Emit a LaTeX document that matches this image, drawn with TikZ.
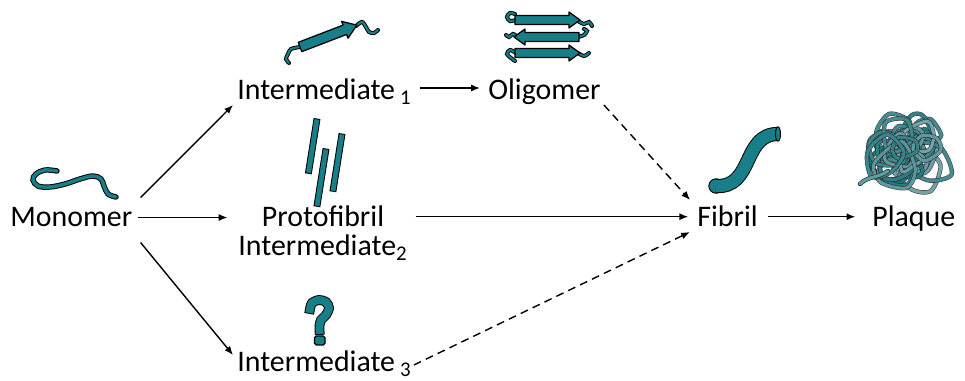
\documentclass[tikz,border=0pt]{standalone}
\usepackage{fontspec}
\setmainfont{Carlito}
\usetikzlibrary{arrows.meta,positioning}
\definecolor{amyteal}{RGB}{24,126,136}
\definecolor{amylight}{RGB}{92,160,166}

\tikzset{
  stage/.style={font=\fontsize{17}{16.5}\selectfont, inner sep=0pt, anchor=base west},
  route/.style={-{Latex[length=5pt,width=4pt]}, line width=0.8pt},
  maybe/.style={route, dash pattern=on 4.5pt off 3pt},
  strand/.style={draw=black, double=amyteal, line width=0.55pt, double distance=#1, line cap=round},
  sheet/.style={draw=black, fill=amyteal, line width=0.7pt, line join=round},
  rod/.style={draw=black, fill=amyteal, line width=0.5pt},
}

\begin{document}
\begin{tikzpicture}[x=0.02cm, y=-0.02cm]
\useasboundingbox (0,0) rectangle (965,381);

% Stage labels
\node[stage] (mon) at (10,227) {Monomer};
\node[stage] (int1) at (237,100) {Intermediate\,\textsubscript{1}};
\node[stage] (olig) at (488,100) {Oligomer};
\node[stage, anchor=center, align=center] (proto) at (323,233) {Protofibril\\Intermediate\textsubscript{2}};
\node[stage] (int3) at (237,372) {Intermediate\,\textsubscript{3}};
\node[stage] (fib) at (697,227) {Fibril};
\node[stage] (plq) at (872,227) {Plaque};

% Pathways
\draw[route] ([shift={(8,-20)}]mon.east) -- ([shift={(-4,5)}]int1.base west);
\draw[route, shorten <=3pt, shorten >=6pt] (mon.east) -- (mon.east -| proto.west);
\draw[route] ([shift={(8,25)}]mon.east) -- ([shift={(-4,-17)}]int3.base west);
\draw[route] ([shift={(8,-12)}]int1.base east) -- ([shift={(-8,-12)}]olig.base west);
\draw[maybe] ([shift={(3,5)}]olig.base east) -- ([shift={(-7,-27)}]fib.base west);
\draw[route, shorten <=4.3pt, shorten >=5pt] (fib.west -| proto.east) -- (fib.west);
\draw[maybe] ([shift={(2,-7)}]int3.base east) -- ([shift={(-7,5)}]fib.base west);
\draw[route, shorten <=5.5pt, shorten >=9.5pt] (fib.east) -- (fib.east -| plq.west);

% Monomer: free strand
\draw[strand=2pt] plot[smooth, tension=0.6] coordinates
  {(57,171) (45,170) (36,174) (33,180) (38,186) (50,187) (65,184) (80,179) (93,176) (101,179) (104,186) (108,194) (116,197)};

% Intermediate 1: one strand folded into a sheet
\draw[strand=1.2pt] plot[smooth] coordinates {(300,47) (291,49) (288,54) (286,59) (289,63)};
\draw[strand=1.2pt] plot[smooth] coordinates {(356,26) (362,22) (366,27) (369,32) (374,33) (378,30)};
\begin{scope}[shift={(300,47)}, rotate=21]
  \draw[sheet] (0,-5) -- (48,-5) -- (48,-9) -- (61,0) -- (48,9) -- (48,5) -- (0,5) -- cycle;
\end{scope}

% Oligomer: stacked sheets with loose ends
\draw[strand=1.2pt] plot[smooth] coordinates {(516,20) (510,21) (507,17) (510,13) (515,14)};
\draw[strand=1.2pt] plot[smooth] coordinates {(578,21) (584,24) (589,22) (592,26)};
\draw[strand=1.2pt] plot[smooth] coordinates {(518,37) (513,34) (509,37) (506,35)};
\draw[strand=1.2pt] plot[smooth] coordinates {(578,37) (584,35) (587,31) (584,29)};
\draw[strand=1.2pt] plot[smooth] coordinates {(516,53) (510,50) (507,54) (511,58) (515,61)};
\draw[strand=1.2pt] plot[smooth] coordinates {(578,53) (584,56) (589,53)};
\foreach \y/\d in {20/1, 37/-1, 53/1} {
  \begin{scope}[shift={(547,\y)}, xscale=\d]
    \draw[sheet] (-32,-4.5) -- (22,-4.5) -- (22,-8) -- (33,0) -- (22,8) -- (22,4.5) -- (-32,4.5) -- cycle;
  \end{scope}
}

% Protofibril rods
\foreach \x/\y/\l in {317/119/55, 342/134/58, 326/149/58}
  \draw[rod, shift={(\x,\y)}, rotate=-9] (-3,0) rectangle (3,\l);

% Intermediate 3: unknown form
\draw[strand=4.5pt, line cap=rect] plot[smooth] coordinates
  {(310,309) (312,303) (319,300) (326,302) (329,308) (326,315) (321,320) (319.5,326) (319.5,330)};
\draw[sheet, rounded corners=1pt] (314.5,336) rectangle (325,345);

% Fibril tube
\draw[sheet, line width=0.55pt] (716,186) circle [radius=7.2];
\draw[strand=7pt, line cap=butt] (716,186) .. controls (754,188) and (742,134) .. (778,134);
\draw[sheet, line width=0.55pt] (778,134) ellipse [x radius=2.5, y radius=7.2];

% Plaque: tangle of fibrils, each loop a wobbly ring
\pgfmathsetseed{11}
\foreach \i in {1,...,30} {
  \pgfmathsetmacro{\cx}{906+22*rand}
  \pgfmathsetmacro{\cy}{150+20*rand}
  \pgfmathsetmacro{\rad}{14+16*rnd}
  \pgfmathsetmacro{\phase}{360*rnd}
  \foreach \k in {1,...,5} {
    \pgfmathsetmacro{\t}{\phase+72*\k+20*rand}
    \pgfmathsetmacro{\r}{\rad*(0.6+0.4*rnd)}
    \pgfmathsetmacro{\px}{max(859,min(954,\cx+\r*cos(\t)))}
    \pgfmathsetmacro{\py}{max(104,min(196,\cy+\r*sin(\t)))}
    \expandafter\xdef\csname pt\k\endcsname{(\px,\py)}
  }
  \pgfmathtruncatemacro{\tone}{55+45*rnd}
  \draw[draw=black!85, double=amyteal!\tone!white, line width=0.35pt, double distance=1.8pt, opacity=0.85]
    plot[smooth cycle] coordinates {\csname pt1\endcsname \csname pt2\endcsname \csname pt3\endcsname \csname pt4\endcsname \csname pt5\endcsname};
}
\draw[strand=1.8pt, draw=black!85, double=amylight, line width=0.35pt] (860,184) .. controls (868,176) and (878,178) .. (888,171);
\end{tikzpicture}
\end{document}
